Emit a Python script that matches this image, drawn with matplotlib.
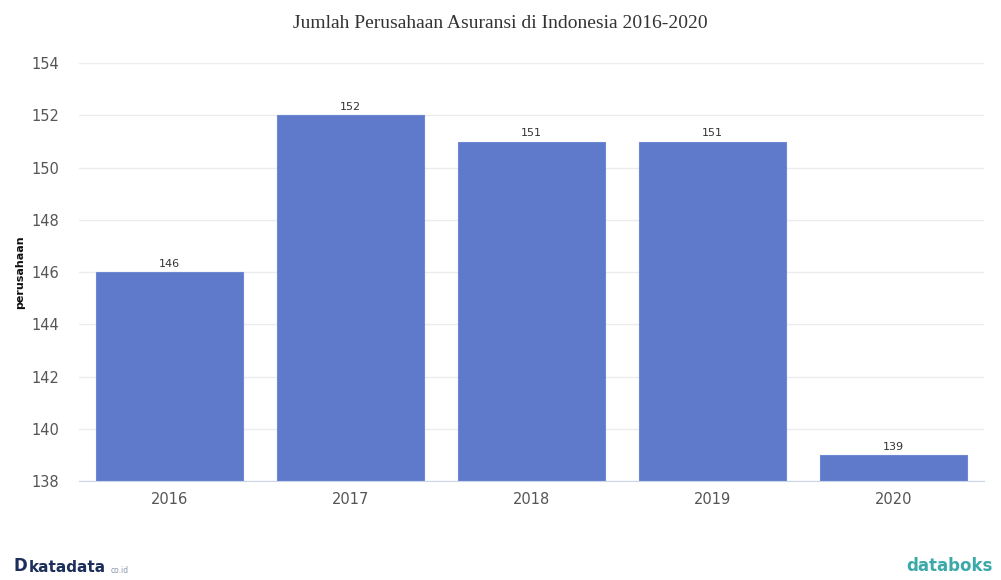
import matplotlib.pyplot as plt
import numpy as np

years = ["2016", "2017", "2018", "2019", "2020"]
counts = [146, 152, 151, 151, 139]
yticks = [138, 140, 142, 144, 146, 148, 150, 152, 154]

fig = plt.figure(figsize=(10.01, 5.8), dpi=100)
ax = fig.add_axes([0.0789, 0.1707, 0.9041, 0.7203])

x = np.arange(len(years))
bars = ax.bar(x, counts, width=0.81, color="#5f7acb", edgecolor="#6f88d4", linewidth=0.8, zorder=2)

for xi, v in zip(x, counts):
    ax.text(xi, v + 0.12, str(v), ha="center", va="bottom", fontsize=8, color="#333333",
            family="DejaVu Sans")

ax.set_xlim(-0.5, len(years) - 0.5)
ax.set_ylim(138, 154)
ax.set_yticks(yticks)
ax.set_xticks(x)
ax.set_xticklabels(years)
ax.tick_params(axis="both", length=0, labelsize=10.5, colors="#555555", pad=8)
ax.tick_params(axis="y", pad=14)
ax.grid(axis="y", color="#ececec", linewidth=1, zorder=0)
for s in ["top", "right", "left"]:
    ax.spines[s].set_visible(False)
ax.spines["bottom"].set_color("#ccd6eb")

ax.set_ylabel("perusahaan", fontsize=8, fontweight="bold", color="#111111", labelpad=5)

fig.text(0.5, 0.96, "Jumlah Perusahaan Asuransi di Indonesia 2016-2020", ha="center", va="center",
         fontsize=14, family="Liberation Serif", color="#333333")

fig.text(0.013, 0.008, "D", fontsize=12, fontweight="bold", color="#1c2e5a", va="bottom")
fig.text(0.029, 0.008, "katadata", fontsize=11, fontweight="bold", color="#1c2e5a", va="bottom")
fig.text(0.111, 0.009, "co.id", fontsize=5.5, color="#8899aa", va="bottom")
fig.text(0.905, 0.008, "databoks", fontsize=12, fontweight="bold", color="#3aa9a8", va="bottom")

fig.savefig("out.png", dpi=100)
